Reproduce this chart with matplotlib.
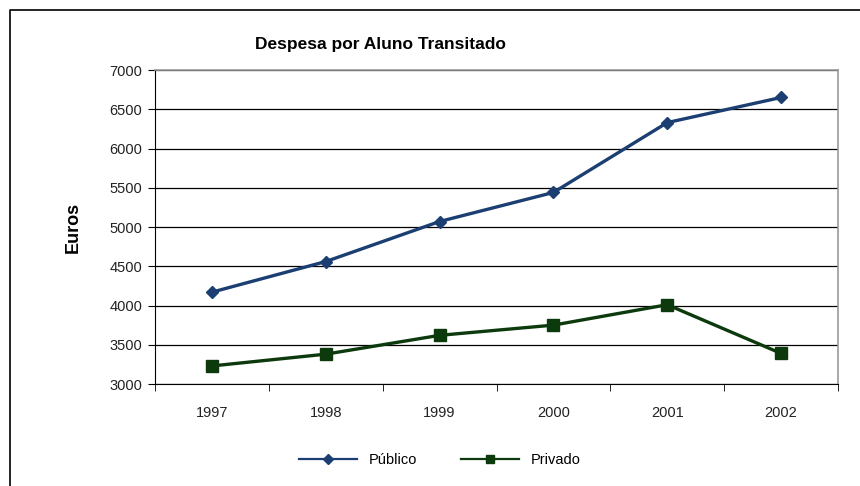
import matplotlib
matplotlib.use("Agg")
import matplotlib.pyplot as plt
from matplotlib.lines import Line2D

plt.rcParams['font.family'] = ['Liberation Sans', 'DejaVu Sans']

years = ["1997", "1998", "1999", "2000", "2001", "2002"]
publico = [4170, 4560, 5070, 5440, 6330, 6650]
privado = [3230, 3380, 3620, 3750, 4010, 3390]

fig = plt.figure(figsize=(8.6, 4.86), dpi=100)
# partial outer frame (top and left edges visible)
fig.lines.append(Line2D([9.5/860, 9.5/860, 1.0], [0.0, 1-10.5/486, 1-10.5/486],
                        transform=fig.transFigure, color='black', linewidth=1.2))
ax = fig.add_axes([155/860, 1-384/486, 683/860, 314/486])

x = list(range(len(years)))
ax.plot(x, publico, color='#1b3f72', linewidth=2.4, marker='D', markersize=6,
        label='Público')
ax.plot(x, privado, color='#0c3a0c', linewidth=2.4, marker='s', markersize=8,
        label='Privado')

ax.set_xlim(-0.5, 5.5)
ax.set_ylim(3000, 7000)
ax.set_yticks(range(3000, 7001, 500))
ax.yaxis.grid(True, color='black', linewidth=0.9)
ax.set_axisbelow(True)
ax.set_xticks(x)
ax.set_xticklabels(years)
ax.set_xticks([i - 0.5 for i in range(len(years) + 1)], minor=True)
ax.tick_params(axis='x', which='major', length=0, pad=16, labelsize=10.5,
               labelcolor='#222222')
ax.tick_params(axis='x', which='minor', length=5, direction='out')
ax.tick_params(axis='y', length=5, direction='out', labelsize=10.5, pad=4,
               labelcolor='#222222')
for s in ['top', 'right']:
    ax.spines[s].set_color('#999999')
    ax.spines[s].set_linewidth(1.2)
for s in ['left', 'bottom']:
    ax.spines[s].set_color('black')

ax.set_ylabel('Euros', fontsize=13, fontweight='bold', labelpad=20)
fig.text(380/860, 1-45/486, 'Despesa por Aluno Transitado', fontsize=12.5,
         fontweight='bold', ha='center', va='center')

leg = fig.legend(loc='center', bbox_to_anchor=(440/860, 1-460/486), ncol=2, frameon=False,
                 fontsize=10.5, handlelength=4, columnspacing=3, markerscale=0.8)
for h in leg.legend_handles:
    h.set_linewidth(1.6)

fig.savefig('out.png', dpi=100)
